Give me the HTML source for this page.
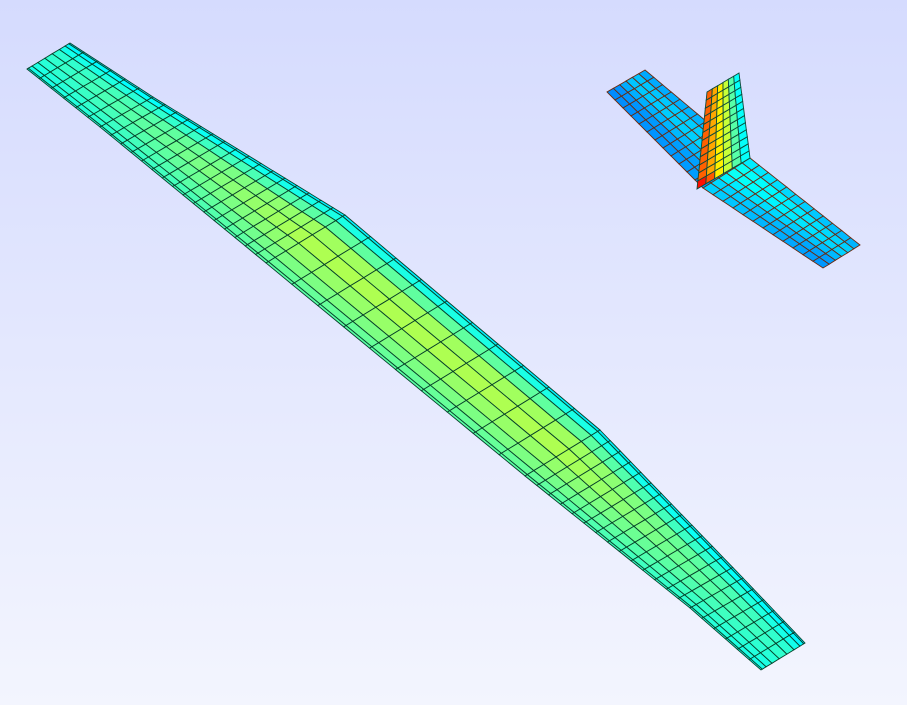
<!DOCTYPE html>
<html><head><meta charset="utf-8"><style>
html,body{margin:0;padding:0;width:907px;height:705px;overflow:hidden}
body{background:linear-gradient(#d5dbfe,#f3f5fe);font-family:"Liberation Sans",sans-serif}
svg{position:absolute;left:0;top:0}
</style></head><body>
<svg id="v" width="907" height="705"></svg>
<script>
// Wing geometry (screen projection)
const wingLE = [[70,43],[153,97],[345,215],[600,430],[743,578],[805,643]];
const wingTE = [[27,69],[100,127],[266,263],[525,476],[690,608],[761,670]];
const wingSpanPanels = [6,16,10,14,6];
const wingChordPanels = 9;
// pressure peak per LE station (jet value)
const wingPeak = [0.42,0.46,0.55,0.55,0.46,0.42];
// fin & stabilizer
const finRoot = [[697,189],[750,158]];
const finTip = [[707,92],[739,73]];
const finStrip = [0.78,0.71,0.64,0.57,0.46,0.38];
const stabL = [[607,92],[645,70],[750,158],[703,188]];
const stabR = [[703,188],[750,158],[860,245],[823,268]];

const NS='http://www.w3.org/2000/svg';
const svg=document.getElementById('v');
function cl(x){return Math.max(0,Math.min(1,x));}
function jet(v){const r=cl(1.5-Math.abs(4*v-3)),g=cl(1.5-Math.abs(4*v-2)),b=cl(1.5-Math.abs(4*v-1));
 return `rgb(${Math.round(r*255)},${Math.round(g*255)},${Math.round(b*255)})`;}
function lerp(a,b,t){return [a[0]+(b[0]-a[0])*t,a[1]+(b[1]-a[1])*t];}
function poly(pts,fill,stroke,name){const p=document.createElementNS(NS,'polygon');
 p.setAttribute('points',pts.map(q=>q[0].toFixed(1)+','+q[1].toFixed(1)).join(' '));
 p.setAttribute('fill',fill);p.setAttribute('stroke',stroke);p.setAttribute('stroke-width','0.9');
 
 
 svg.appendChild(p);}
function chordProfile(c,peak){const lo=0.35;
 let f = c<0.45 ? Math.sin(c/0.45*Math.PI/2) : 1-0.45*Math.pow((c-0.45)/0.55,1.3);
 return lo+(peak-lo)*f;}
const cs=[];for(let j=0;j<=wingChordPanels;j++){cs.push(0.5-0.5*Math.cos(Math.PI*j/wingChordPanels));}
// wing
for(let s=0;s<wingSpanPanels.length;s++){
 const n=wingSpanPanels[s];
 for(let i=0;i<n;i++){
  const t0=i/n,t1=(i+1)/n;
  const le0=lerp(wingLE[s],wingLE[s+1],t0),le1=lerp(wingLE[s],wingLE[s+1],t1);
  const te0=lerp(wingTE[s],wingTE[s+1],t0),te1=lerp(wingTE[s],wingTE[s+1],t1);
  const pk=wingPeak[s]+(wingPeak[s+1]-wingPeak[s])*(t0+t1)/2;
  for(let j=0;j<wingChordPanels;j++){
   const a=cs[j],b=cs[j+1];
   const q=[lerp(le0,te0,a),lerp(le1,te1,a),lerp(le1,te1,b),lerp(le0,te0,b)];
   poly(q,jet(chordProfile((a+b)/2,pk)),'#06402a','wing-panel');
  }
 }
}
// stabilizers
function stab(Q,name,vIn,vOut){const ns=12,nc=6;
 for(let i=0;i<ns;i++)for(let j=0;j<nc;j++){
  const P=(u,w)=>{const a=lerp(Q[0],Q[3],u),b=lerp(Q[1],Q[2],u);return lerp(b,a,w);};
  const u0=i/ns,u1=(i+1)/ns,w0=j/nc,w1=(j+1)/nc;
  const uu=(u0+u1)/2;const v=vIn+(vOut-vIn)*Math.abs(uu-(name==='stab-left-panel'?1:0))+0.03*Math.sin(w0*6);
  poly([P(u0,w0),P(u1,w0),P(u1,w1),P(u0,w1)],jet(v),'#6a2a10',name);
 }}
stab(stabL,'stab-left-panel',0.31,0.29);
stab(stabR,'stab-right-panel',0.36,0.30);
// fin
for(let j=0;j<finStrip.length;j++){const nr=12;
 for(let i=0;i<nr;i++){
  const w0=j/finStrip.length,w1=(j+1)/finStrip.length,u0=i/nr,u1=(i+1)/nr;
  const P=(u,w)=>lerp(lerp(finRoot[0],finRoot[1],w),lerp(finTip[0],finTip[1],w),u);
  const v=finStrip[j]+(i===0&&j<2?0.08:0);
  poly([P(u0,w0),P(u0,w1),P(u1,w1),P(u1,w0)],jet(v),'#0c4a3a','fin-panel');
 }}
</script>
</body></html>
